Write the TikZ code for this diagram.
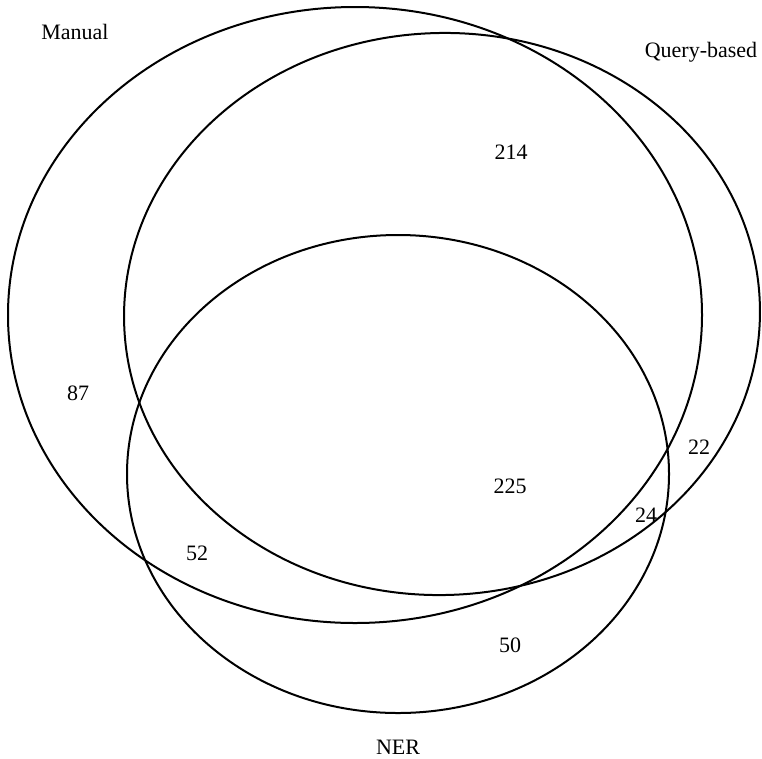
\documentclass[tikz,border=0pt]{standalone}
\usepackage{fontspec}
\setmainfont{Liberation Serif}
\usetikzlibrary{positioning}

\begin{document}
\begin{tikzpicture}[x=1pt, y=-1pt, set/.style={draw=black, line width=2pt}, every node/.style={font=\fontsize{22}{26}\selectfont, inner sep=0pt}]
  \useasboundingbox (0,0) rectangle (762,758);
  \draw[set] (355,315) ellipse [x radius=347pt, y radius=308pt];
  \draw[set, rotate around={2:(442,314)}] (442,314) ellipse [x radius=318pt, y radius=281pt];
  \draw[set] (398,474) ellipse [x radius=271pt, y radius=239pt];
  \node (manual) at (75,32) {Manual};
  \node (query) at (701,52) {Query-based};
  \node (ner) at (398,747) {NER};
  \node (m) at (78,393) {87};
  \node (mq) at (511,152) {214};
  \node (q) at (699,447) {22};
  \node (mqn) at (510,486) {225};
  \node (qn) at (646,515) {24};
  \node (mn) at (197,553) {52};
  \node (n) at (510,645) {50};
\end{tikzpicture}
\end{document}
